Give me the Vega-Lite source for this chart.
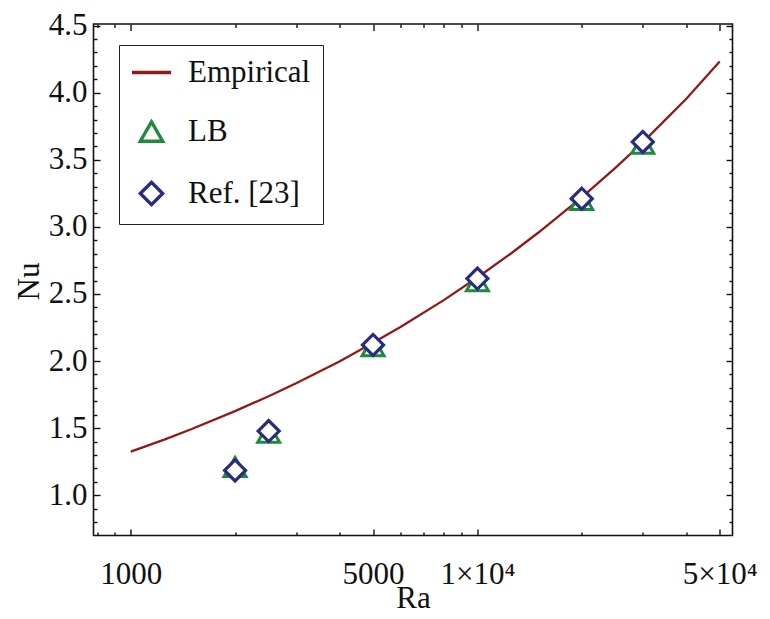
{
  "$schema": "https://vega.github.io/schema/vega-lite/v6.json",
  "width": 639,
  "height": 511.5,
  "autosize": {"type": "none"},
  "padding": {"left": 93.5, "top": 24, "right": 37.5, "bottom": 83.5},
  "background": "white",
  "config": {
    "font": "Liberation Serif, Times New Roman, Times, serif",
    "view": {"stroke": "#111111", "strokeWidth": 1.6},
    "axis": {"domain": false, "grid": false, "tickColor": "#111111", "tickWidth": 1.4, "labelColor": "#111111", "titleColor": "#111111", "labelFont": "Liberation Serif, Times New Roman, Times, serif", "titleFont": "Liberation Serif, Times New Roman, Times, serif", "labelFontSize": 31, "titleFontSize": 31, "titleFontWeight": "normal", "labelOverlap": false, "labelFlush": false},
    "legend": {"labelFont": "Liberation Serif, Times New Roman, Times, serif", "symbolStrokeWidth": 3.4}
  },
  "datasets": {
    "emp": [
      {"Ra": 1000, "Nu": 1.325},
      {"Ra": 1250, "Nu": 1.415},
      {"Ra": 1500, "Nu": 1.494},
      {"Ra": 2000, "Nu": 1.627},
      {"Ra": 2500, "Nu": 1.738},
      {"Ra": 3000, "Nu": 1.834},
      {"Ra": 4000, "Nu": 1.997},
      {"Ra": 5000, "Nu": 2.136},
      {"Ra": 6000, "Nu": 2.254},
      {"Ra": 8000, "Nu": 2.454},
      {"Ra": 10000, "Nu": 2.623},
      {"Ra": 12500, "Nu": 2.802},
      {"Ra": 15000, "Nu": 2.958},
      {"Ra": 20000, "Nu": 3.220},
      {"Ra": 25000, "Nu": 3.440},
      {"Ra": 30000, "Nu": 3.630},
      {"Ra": 40000, "Nu": 3.953},
      {"Ra": 50000, "Nu": 4.232}
    ],
    "lb": [
      {"Ra": 2000, "Nu": 1.21, "series": "LB"},
      {"Ra": 2500, "Nu": 1.465, "series": "LB"},
      {"Ra": 5000, "Nu": 2.11, "series": "LB"},
      {"Ra": 10000, "Nu": 2.595, "series": "LB"},
      {"Ra": 20000, "Nu": 3.20, "series": "LB"},
      {"Ra": 30000, "Nu": 3.62, "series": "LB"}
    ],
    "ref": [
      {"Ra": 2000, "Nu": 1.185, "series": "Ref. [23]"},
      {"Ra": 2500, "Nu": 1.478, "series": "Ref. [23]"},
      {"Ra": 5000, "Nu": 2.12, "series": "Ref. [23]"},
      {"Ra": 10000, "Nu": 2.615, "series": "Ref. [23]"},
      {"Ra": 20000, "Nu": 3.21, "series": "Ref. [23]"},
      {"Ra": 30000, "Nu": 3.633, "series": "Ref. [23]"}
    ]
  },
  "resolve": {"axis": {"x": "independent", "y": "independent"}},
  "layer": [
    {
      "data": {"name": "emp"},
      "mark": {"type": "line", "strokeWidth": 2.3, "clip": true, "color": "#8E1A1A"},
      "encoding": {
        "x": {
          "field": "Ra", "type": "quantitative",
          "scale": {"type": "log", "domain": [781, 54430], "nice": false},
          "axis": {
            "orient": "bottom", "title": "Ra",
            "values": [800, 900, 1000, 2000, 3000, 4000, 5000, 6000, 7000, 8000, 9000, 10000, 20000, 30000, 40000, 50000],
            "labelExpr": "datum.value == 1000 ? '1000' : datum.value == 5000 ? '5000' : datum.value == 10000 ? '1×10⁴' : datum.value == 50000 ? '5×10⁴' : ''",
            "tickSize": {"condition": {"test": "indexof([1000,5000,10000,50000], datum.value) >= 0", "value": -6.5}, "value": -3.5},
            "labelPadding": 30,
            "titleBaseline": "alphabetic", "titleY": 71.5, "titleX": 319.5, "titleAlign": "center"
          }
        },
        "y": {
          "field": "Nu", "type": "quantitative",
          "scale": {"domain": [0.70, 4.512], "nice": false, "zero": false},
          "axis": {
            "orient": "left", "title": "Nu",
            "values": [0.8, 0.9, 1.0, 1.1, 1.2, 1.3, 1.4, 1.5, 1.6, 1.7, 1.8, 1.9, 2.0, 2.1, 2.2, 2.3, 2.4, 2.5, 2.6, 2.7, 2.8, 2.9, 3.0, 3.1, 3.2, 3.3, 3.4, 3.5, 3.6, 3.7, 3.8, 3.9, 4.0, 4.1, 4.2, 4.3, 4.4, 4.5],
            "labelExpr": "abs(datum.value*2 - round(datum.value*2)) < 0.001 ? format(datum.value, '.1f') : ''",
            "tickSize": {"condition": {"test": "abs(datum.value*2 - round(datum.value*2)) < 0.001", "value": -6.5}, "value": -3.5},
            "labelPadding": 13,
            "titleBaseline": "alphabetic", "titleX": -55, "titleY": 257, "titleAlign": "center", "titleAngle": -90
          }
        }
      }
    },
    {
      "data": {"name": "lb"},
      "mark": {"type": "point", "filled": false, "fill": "white", "fillOpacity": 1, "strokeWidth": 3, "size": 480, "opacity": 1},
      "encoding": {
        "x": {
          "field": "Ra", "type": "quantitative",
          "scale": {"type": "log", "domain": [781, 54430], "nice": false},
          "axis": {
            "orient": "top", "title": null, "labels": false,
            "values": [800, 900, 1000, 2000, 3000, 4000, 5000, 6000, 7000, 8000, 9000, 10000, 20000, 30000, 40000, 50000],
            "tickSize": {"condition": {"test": "indexof([1000,5000,10000,50000], datum.value) >= 0", "value": -6.5}, "value": -3.5}
          }
        },
        "y": {
          "field": "Nu", "type": "quantitative",
          "scale": {"domain": [0.70, 4.512], "nice": false, "zero": false},
          "axis": {
            "orient": "right", "title": null, "labels": false,
            "values": [0.8, 0.9, 1.0, 1.1, 1.2, 1.3, 1.4, 1.5, 1.6, 1.7, 1.8, 1.9, 2.0, 2.1, 2.2, 2.3, 2.4, 2.5, 2.6, 2.7, 2.8, 2.9, 3.0, 3.1, 3.2, 3.3, 3.4, 3.5, 3.6, 3.7, 3.8, 3.9, 4.0, 4.1, 4.2, 4.3, 4.4, 4.5],
            "tickSize": {"condition": {"test": "abs(datum.value*2 - round(datum.value*2)) < 0.001", "value": -6.5}, "value": -3.5}
          }
        },
        "color": {
          "field": "series", "type": "nominal",
          "scale": {"domain": ["Empirical", "LB", "Ref. [23]"], "range": ["#8E1A1A", "#1E8A3C", "#282C7E"]},
          "legend": {
            "title": null, "orient": "none", "legendX": 25.5, "legendY": 21,
            "strokeColor": "#222222", "fillColor": "white", "padding": 12,
            "labelFontSize": 31, "labelColor": "#111111",
            "symbolSize": 500, "symbolStrokeWidth": 3.4, "rowPadding": 27, "labelOffset": 21, "symbolOffset": 5
          }
        },
        "shape": {
          "field": "series", "type": "nominal",
          "scale": {"domain": ["Empirical", "LB", "Ref. [23]"], "range": ["M-1.75,0L1.75,0", "triangle-up", "diamond"]},
          "legend": {
            "title": null, "orient": "none", "legendX": 25.5, "legendY": 21,
            "strokeColor": "#222222", "fillColor": "white", "padding": 12,
            "labelFontSize": 31, "labelColor": "#111111",
            "symbolSize": 500, "symbolStrokeWidth": 3.4, "rowPadding": 27, "labelOffset": 21, "symbolOffset": 5
          }
        }
      }
    },
    {
      "data": {"name": "ref"},
      "mark": {"type": "point", "filled": false, "fill": "white", "fillOpacity": 1, "strokeWidth": 3.2, "size": 441, "opacity": 1},
      "encoding": {
        "x": {"field": "Ra", "type": "quantitative", "scale": {"type": "log", "domain": [781, 54430], "nice": false}, "axis": null},
        "y": {"field": "Nu", "type": "quantitative", "scale": {"domain": [0.70, 4.512], "nice": false, "zero": false}, "axis": null},
        "color": {"field": "series", "type": "nominal"},
        "shape": {"field": "series", "type": "nominal"}
      }
    }
  ]
}
